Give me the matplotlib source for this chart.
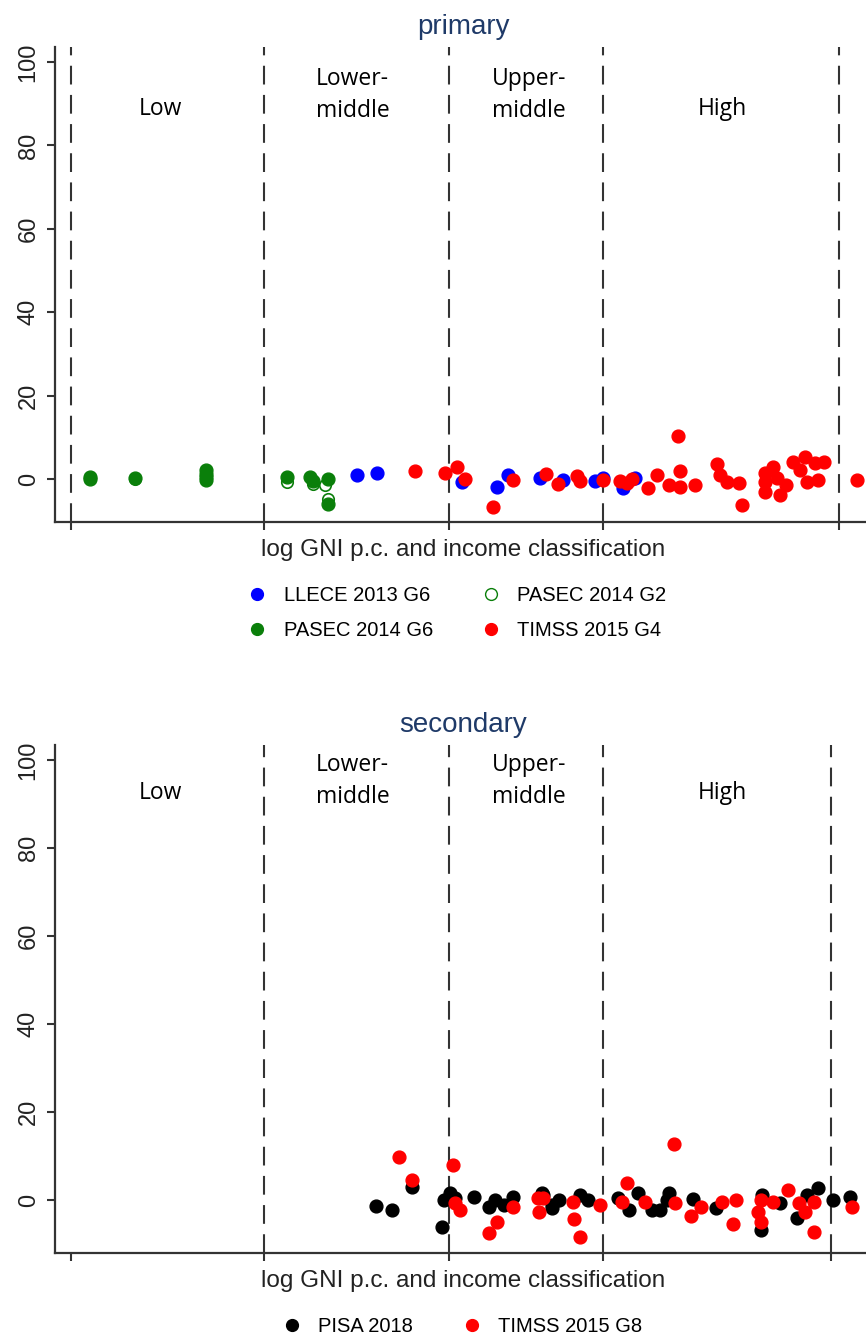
import matplotlib.pyplot as plt
from matplotlib.lines import Line2D

plt.rcParams['font.family'] = ['Liberation Sans', 'DejaVu Sans']

# income group borders (log GNI p.c.)
lines_primary = [5.51, 6.93, 8.29, 9.42, 11.16]
lines_secondary = [6.93, 8.29, 9.42, 11.10]
ticks_secondary = [5.51, 6.93, 8.29, 9.42, 11.10]

# ---- primary data ----
pasec_g6_x = [5.65, 5.65, 5.98, 6.50, 6.50, 6.50, 6.50, 7.10, 7.27, 7.29, 7.40, 7.40]
pasec_g6_y = [0.6, 0.0, 0.3, 2.2, 1.2, 0.4, -0.3, 0.6, 0.6, -0.5, 0.0, -6.0]
pasec_g2_x = [5.65, 5.98, 6.50, 7.10, 7.29, 7.38, 7.40]
pasec_g2_y = [0.2, 0.0, 0.8, -0.8, -1.3, -1.5, -4.8]
llece_x = [7.61, 7.76, 8.385, 8.64, 8.72, 8.96, 9.13, 9.36, 9.42, 9.57, 9.66]
llece_y = [1.0, 1.4, -0.7, -1.9, 1.0, 0.2, -0.2, -0.4, 0.3, -2.1, 0.2]
timss4_x = [8.04, 8.26, 8.35, 8.41, 8.61, 8.76, 9.00, 9.09, 9.23, 9.25, 9.42, 9.55,
            9.60, 9.635, 9.75, 9.82, 9.91, 9.97, 9.99, 9.99, 10.10, 10.26, 10.28,
            10.33, 10.42, 10.44, 10.61, 10.61, 10.61, 10.67, 10.70, 10.72, 10.77,
            10.82, 10.87, 10.91, 10.92, 10.98, 11.00, 11.05, 11.29]
timss4_y = [2.0, 1.5, 2.9, 0.0, -6.7, -0.3, 1.2, -1.2, 0.7, -0.5, -0.2, -0.5,
            -1.0, 0.0, -2.1, 1.0, -1.4, 10.3, 2.0, -1.9, -1.4, 3.6, 1.0,
            -0.7, -1.0, -6.2, 1.4, -0.7, -3.1, 2.9, 0.2, -3.8, -1.4,
            4.1, 2.2, 5.3, -0.7, 3.8, -0.2, 4.1, -0.2]

# ---- secondary data ----
pisa_x = [7.75, 7.87, 8.02, 8.24, 8.25, 8.30, 8.33, 8.47, 8.58, 8.63, 8.69, 8.76,
          8.97, 9.05, 8.98, 9.05, 9.10, 9.25, 9.31, 9.53, 9.61, 9.68, 9.78, 9.84,
          9.89, 9.91, 10.08, 10.25, 10.58, 10.59, 10.72, 10.85, 10.92, 11.00,
          11.11, 11.24]
pisa_y = [-1.4, -2.3, 2.9, -6.1, 0.0, 1.6, 0.5, 0.7, -1.6, 0.0, -1.1, 0.7,
          1.6, -1.8, 1.1, -1.1, 0.0, 1.1, 0.0, 0.5, -2.3, 1.6, -2.3, -2.3,
          0.0, 1.6, 0.2, -1.8, -6.8, 1.1, -0.7, -4.1, 1.1, 2.7,
          0.0, 0.7]
timss8_x = [7.92, 8.02, 8.32, 8.33, 8.37, 8.58, 8.64, 8.76, 8.94, 8.95, 8.98, 9.20,
            9.21, 9.25, 9.40, 9.56, 9.60, 9.73, 9.94, 9.95, 10.07, 10.14, 10.30,
            10.38, 10.40, 10.56, 10.58, 10.58, 10.67, 10.78, 10.86, 10.91, 10.97,
            10.97, 11.25]
timss8_y = [9.7, 4.5, 8.1, -0.7, -2.3, -7.5, -5.0, -1.6, 0.5, -2.7, 0.5, -0.5,
            -4.3, -8.4, -1.1, -0.5, 3.8, -0.5, 12.7, -0.7, -3.6, -1.6, -0.5,
            -5.4, 0.0, -2.7, 0.0, -5.0, -0.5, 2.3, -0.7, -2.7, -0.5,
            -7.2, -1.6]

group_x = [6.17, 7.58, 8.88, 10.30]
group_labels = ['Low', 'Lower-\nmiddle', 'Upper-\nmiddle', 'High']

W, H = 866, 1338
fig = plt.figure(figsize=(W / 100, H / 100), dpi=100)
ax1 = fig.add_axes([55 / W, 1 - 522 / H, 816 / W, 475 / H])
ax2 = fig.add_axes([55 / W, 1 - 1253 / H, 816 / W, 508 / H])

axcol = '#333333'
ms = 85


def style(ax, lines, ticks, ylim, label_y):
    ax.set_xlim(5.392, 11.392)
    ax.set_ylim(*ylim)
    for s in ['top', 'right']:
        ax.spines[s].set_visible(False)
    for s in ['left', 'bottom']:
        ax.spines[s].set_linewidth(1.6)
        ax.spines[s].set_color(axcol)
    for xv in lines:
        ax.axvline(xv, color=axcol, lw=1.5, ls=(0, (9, 5)), zorder=1)
    ax.set_xticks(ticks)
    ax.set_xticklabels([])
    ax.set_yticks([0, 20, 40, 60, 80, 100])
    ax.tick_params(axis='both', direction='out', length=6, width=1.5, color=axcol,
                   labelsize=17, labelcolor='#222222', pad=5)
    for lab in ax.get_yticklabels():
        lab.set_rotation(90)
        lab.set_va('center')
    ax.set_xlabel('log GNI p.c. and income classification', fontsize=17.5,
                  color='#222222', labelpad=1)
    ax.text(group_x[0], label_y[0], group_labels[0], ha='center', va='center',
            fontsize=16.5, family='Open Sans')
    for gx, gl in zip(group_x[1:3], group_labels[1:3]):
        ax.text(gx, label_y[1], gl, ha='center', va='center', fontsize=16.5,
                family='Open Sans', linespacing=1.45)
    ax.text(group_x[3], label_y[0], group_labels[3], ha='center', va='center',
            fontsize=16.5, family='Open Sans')


style(ax1, lines_primary, lines_primary, (-10.3, 103.6), (88.7, 92.0))
style(ax2, lines_secondary, ticks_secondary, (-12.0, 103.4), (92.5, 95.2))

ax1.set_title('primary', fontsize=20, color='#1f3a68', pad=9)
ax2.set_title('secondary', fontsize=20, color='#1f3a68', pad=9)

green = '#0a7f0a'
ax1.scatter(llece_x, llece_y, s=ms, color='blue', edgecolors='blue', zorder=3)
ax1.scatter(pasec_g2_x, pasec_g2_y, s=ms * 0.8, facecolors='white', edgecolors=green,
            linewidths=1.2, zorder=3)
ax1.scatter(pasec_g6_x, pasec_g6_y, s=ms, color=green, edgecolors=green, zorder=4)
ax1.scatter(timss4_x, timss4_y, s=ms, color='red', edgecolors='red', zorder=5)

ax2.scatter(pisa_x, pisa_y, s=ms, color='black', edgecolors='black', zorder=3)
ax2.scatter(timss8_x, timss8_y, s=ms, color='red', edgecolors='red', zorder=4)


def handle(fc, ec):
    return Line2D([], [], ls='none', marker='o', markersize=8.5,
                  markerfacecolor=fc, markeredgecolor=ec)


fig.legend([handle('blue', 'blue'), handle(green, green), handle('white', green),
            handle('red', 'red')],
           ['LLECE 2013 G6', 'PASEC 2014 G6', 'PASEC 2014 G2', 'TIMSS 2015 G4'],
           ncol=2, frameon=False, fontsize=14.5, loc='center',
           bbox_to_anchor=(457 / W, 1 - 613 / H), columnspacing=2.4,
           handletextpad=0.8, labelspacing=0.75, handlelength=1.0)
fig.legend([handle('black', 'black'), handle('red', 'red')],
           ['PISA 2018', 'TIMSS 2015 G8'],
           ncol=2, frameon=False, fontsize=14.5, loc='center',
           bbox_to_anchor=(462 / W, 1 - 1327 / H), columnspacing=2.4,
           handletextpad=0.8, handlelength=1.0)

fig.savefig('out.png', dpi=100)
